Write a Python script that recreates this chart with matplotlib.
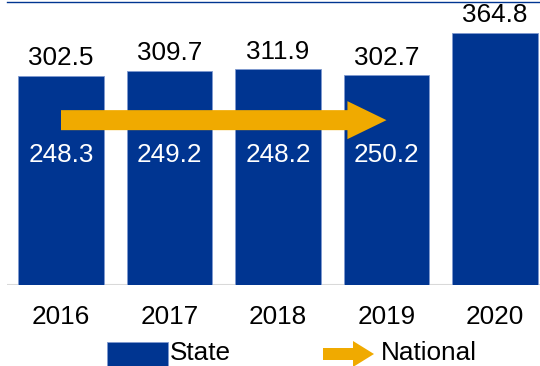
import numpy as np
import matplotlib.pyplot as plt
from matplotlib.patches import FancyArrow, Rectangle
from matplotlib.lines import Line2D

years = ['2016', '2017', '2018', '2019', '2020']
state = [302.5, 309.7, 311.9, 302.7, 364.8]
national = [248.3, 249.2, 248.2, 250.2]

blue = '#003591'
orange = '#F0AA00'
fs = 18.8

plt.rcParams['font.family'] = ['Liberation Sans', 'DejaVu Sans']

fig = plt.figure(figsize=(5.4, 3.66), dpi=100)
ax = fig.add_axes([6.75/540, 81.5/366, 542.5/540, 284.5/366])

x = np.arange(len(years))
ax.bar(x, state, width=0.79, color=blue, edgecolor='#7f9ad0', linewidth=0.6, zorder=2)
ax.set_xlim(-0.5, 4.5)
ax.set_ylim(0, 412)

# value labels on top of bars
for xi, v in zip(x, state):
    ax.annotate(f'{v:.1f}', (xi, v), xytext=(0, 4), textcoords='offset points',
                ha='center', va='bottom', fontsize=fs, color='black')

# national values inside bars
for xi, v in zip(x, national):
    ax.text(xi, 188, f'{v:.1f}', ha='center', va='center', fontsize=fs, color='white', zorder=4)

# national arrow across the years
arr = FancyArrow(0, 238, len(national) - 1, 0, width=29, head_width=55,
                 head_length=0.36, length_includes_head=True,
                 color=orange, linewidth=0, zorder=3)
ax.add_patch(arr)

ax.axhline(0, color='#d9d9d9', linewidth=1.5, zorder=1)
for s in ax.spines.values():
    s.set_visible(False)
ax.set_yticks([])
ax.set_xticks(x)
ax.set_xticklabels(years, fontsize=fs)
ax.tick_params(axis='x', length=0, pad=15)

# top border line
fig.add_artist(Line2D([7/540, 1], [1 - 1.5/366, 1 - 1.5/366], color=blue, linewidth=1))

# legend drawn by hand
def fx(px):
    return px / 540

def fy(py):
    return 1 - py / 366

fig.add_artist(Rectangle((fx(107), fy(370)), 61/540, 28/366, facecolor=blue,
                         edgecolor='#7f9ad0', linewidth=0.6, transform=fig.transFigure))
fig.text(fx(170), fy(360), 'State', fontsize=fs, va='baseline', ha='left')

fig.add_artist(FancyArrow(fx(323), fy(354), 51/540, 0, width=12/366, head_width=26/366,
                          head_length=21/540, length_includes_head=True,
                          color=orange, linewidth=0, transform=fig.transFigure))
fig.text(fx(381), fy(360), 'National', fontsize=fs, va='baseline', ha='left')

plt.savefig('out.png', dpi=100)
